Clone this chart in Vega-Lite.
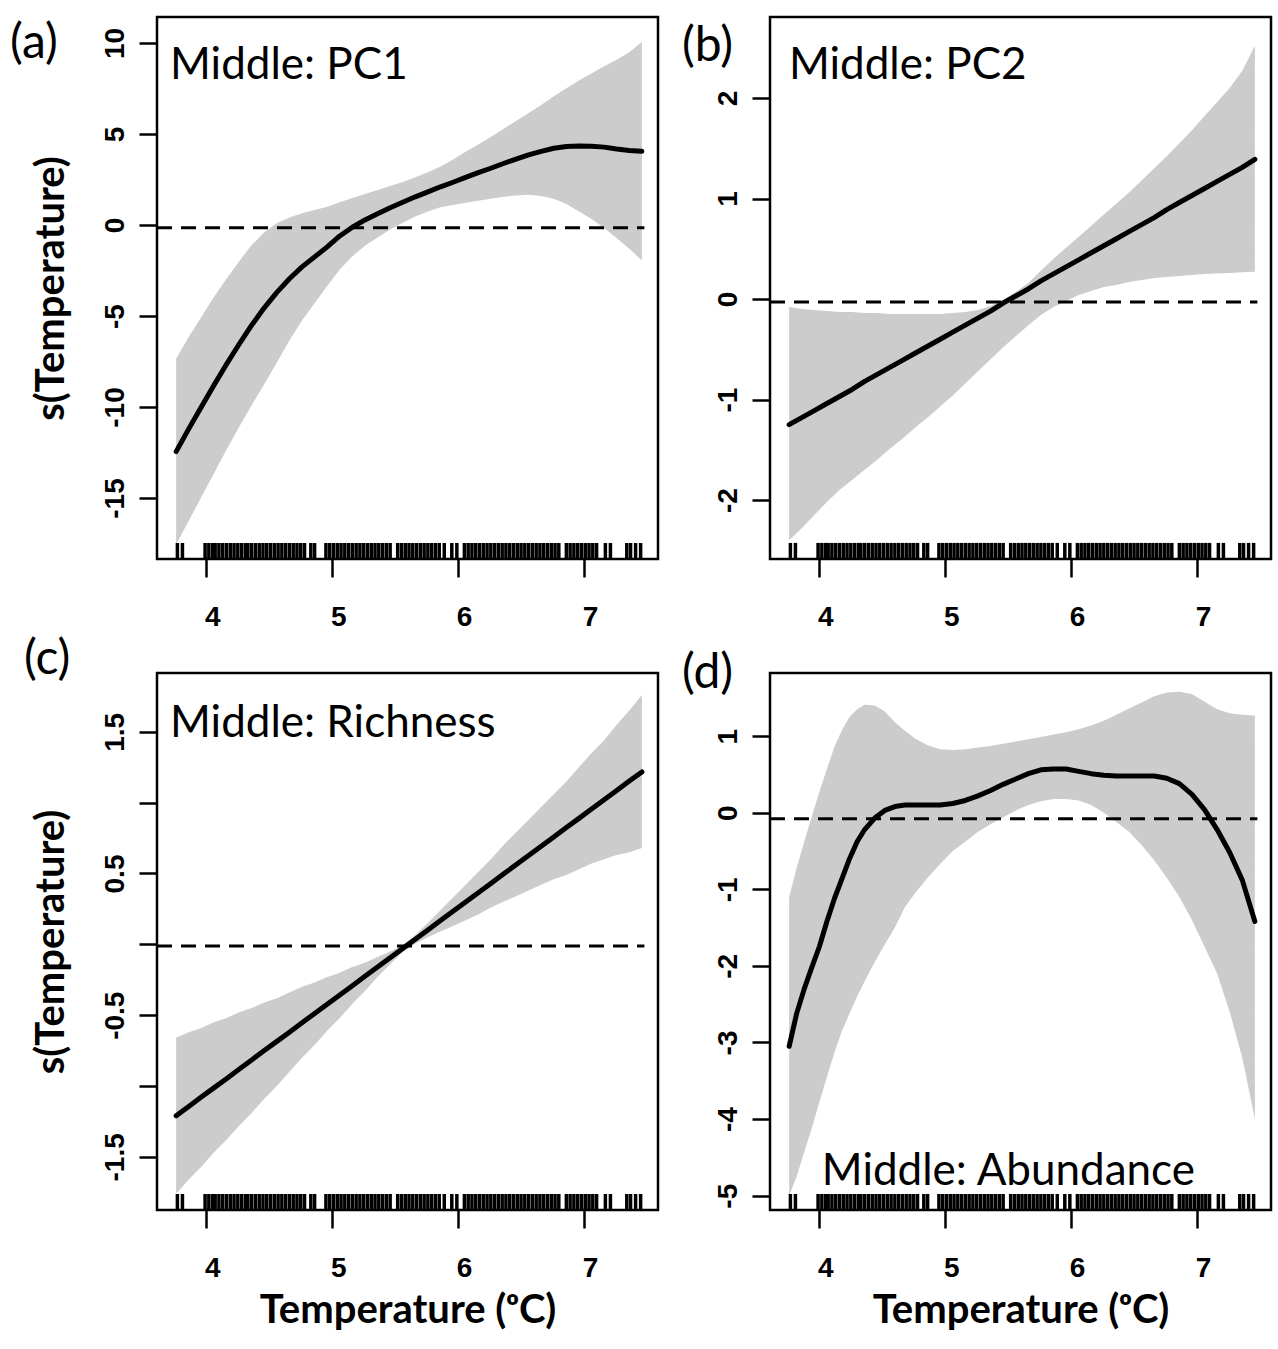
{
"$schema": "https://vega.github.io/schema/vega-lite/v6.json",
"background": "white",
"padding": {"left": 8, "top": 15, "right": 5, "bottom": 5},
"columns": 2,
"spacing": {"row": 114, "column": 112},
"bounds": "flush",
"datasets": {
"rug": [{"t":3.77},{"t":3.81},{"t":3.99},{"t":4.02},{"t":4.05},{"t":4.07},{"t":4.10},{"t":4.13},{"t":4.16},{"t":4.19},{"t":4.22},{"t":4.25},{"t":4.28},{"t":4.31},{"t":4.33},{"t":4.36},{"t":4.39},{"t":4.42},{"t":4.45},{"t":4.48},{"t":4.51},{"t":4.54},{"t":4.57},{"t":4.60},{"t":4.63},{"t":4.66},{"t":4.69},{"t":4.72},{"t":4.75},{"t":4.78},{"t":4.83},{"t":4.86},{"t":4.95},{"t":4.98},{"t":5.01},{"t":5.04},{"t":5.07},{"t":5.10},{"t":5.13},{"t":5.16},{"t":5.19},{"t":5.22},{"t":5.25},{"t":5.28},{"t":5.31},{"t":5.34},{"t":5.37},{"t":5.40},{"t":5.43},{"t":5.46},{"t":5.52},{"t":5.55},{"t":5.58},{"t":5.61},{"t":5.64},{"t":5.67},{"t":5.70},{"t":5.73},{"t":5.76},{"t":5.79},{"t":5.82},{"t":5.85},{"t":5.89},{"t":5.95},{"t":5.99},{"t":6.05},{"t":6.08},{"t":6.11},{"t":6.14},{"t":6.17},{"t":6.20},{"t":6.23},{"t":6.26},{"t":6.29},{"t":6.32},{"t":6.35},{"t":6.38},{"t":6.41},{"t":6.44},{"t":6.47},{"t":6.50},{"t":6.53},{"t":6.56},{"t":6.59},{"t":6.62},{"t":6.65},{"t":6.68},{"t":6.71},{"t":6.74},{"t":6.77},{"t":6.80},{"t":6.86},{"t":6.89},{"t":6.92},{"t":6.95},{"t":6.98},{"t":7.01},{"t":7.04},{"t":7.07},{"t":7.10},{"t":7.17},{"t":7.21},{"t":7.34},{"t":7.37},{"t":7.41},{"t":7.45}],
"a": [
{"t":3.76,"fit":-12.45,"lo":-17.55,"hi":-7.35},
{"t":3.86,"fit":-11.2,"lo":-16.25,"hi":-6.15},
{"t":3.96,"fit":-10.0,"lo":-14.95,"hi":-5.05},
{"t":4.06,"fit":-8.8,"lo":-13.65,"hi":-3.95},
{"t":4.16,"fit":-7.65,"lo":-12.35,"hi":-2.95},
{"t":4.26,"fit":-6.55,"lo":-11.1,"hi":-2.0},
{"t":4.36,"fit":-5.5,"lo":-9.9,"hi":-1.1},
{"t":4.46,"fit":-4.55,"lo":-8.75,"hi":-0.4},
{"t":4.56,"fit":-3.7,"lo":-7.55,"hi":0.1},
{"t":4.66,"fit":-2.95,"lo":-6.35,"hi":0.42},
{"t":4.76,"fit":-2.3,"lo":-5.25,"hi":0.65},
{"t":4.86,"fit":-1.75,"lo":-4.3,"hi":0.82},
{"t":4.96,"fit":-1.2,"lo":-3.35,"hi":1.0},
{"t":5.06,"fit":-0.6,"lo":-2.45,"hi":1.25},
{"t":5.16,"fit":-0.12,"lo":-1.72,"hi":1.48},
{"t":5.26,"fit":0.28,"lo":-1.14,"hi":1.7},
{"t":5.36,"fit":0.62,"lo":-0.68,"hi":1.92},
{"t":5.46,"fit":0.95,"lo":-0.25,"hi":2.15},
{"t":5.56,"fit":1.25,"lo":0.13,"hi":2.37},
{"t":5.66,"fit":1.55,"lo":0.47,"hi":2.63},
{"t":5.76,"fit":1.82,"lo":0.74,"hi":2.9},
{"t":5.86,"fit":2.1,"lo":0.98,"hi":3.22},
{"t":5.96,"fit":2.35,"lo":1.1,"hi":3.6},
{"t":6.06,"fit":2.62,"lo":1.22,"hi":4.02},
{"t":6.16,"fit":2.88,"lo":1.33,"hi":4.43},
{"t":6.26,"fit":3.12,"lo":1.45,"hi":4.84},
{"t":6.36,"fit":3.38,"lo":1.55,"hi":5.28},
{"t":6.46,"fit":3.62,"lo":1.62,"hi":5.72},
{"t":6.56,"fit":3.85,"lo":1.66,"hi":6.15},
{"t":6.66,"fit":4.05,"lo":1.6,"hi":6.6},
{"t":6.76,"fit":4.22,"lo":1.45,"hi":7.07},
{"t":6.86,"fit":4.32,"lo":1.15,"hi":7.52},
{"t":6.96,"fit":4.34,"lo":0.74,"hi":7.94},
{"t":7.06,"fit":4.33,"lo":0.33,"hi":8.33},
{"t":7.16,"fit":4.28,"lo":-0.17,"hi":8.73},
{"t":7.26,"fit":4.18,"lo":-0.72,"hi":9.08},
{"t":7.36,"fit":4.1,"lo":-1.3,"hi":9.5},
{"t":7.46,"fit":4.05,"lo":-1.95,"hi":10.05}],
"b": [
{"t":3.76,"fit":-1.25,"lo":-2.40,"hi":-0.08},
{"t":3.86,"fit":-1.18,"lo":-2.28,"hi":-0.10},
{"t":3.96,"fit":-1.11,"lo":-2.15,"hi":-0.11},
{"t":4.06,"fit":-1.04,"lo":-2.02,"hi":-0.12},
{"t":4.16,"fit":-0.97,"lo":-1.90,"hi":-0.13},
{"t":4.26,"fit":-0.90,"lo":-1.80,"hi":-0.13},
{"t":4.36,"fit":-0.82,"lo":-1.70,"hi":-0.14},
{"t":4.46,"fit":-0.75,"lo":-1.60,"hi":-0.14},
{"t":4.56,"fit":-0.68,"lo":-1.49,"hi":-0.15},
{"t":4.66,"fit":-0.61,"lo":-1.39,"hi":-0.15},
{"t":4.76,"fit":-0.54,"lo":-1.28,"hi":-0.15},
{"t":4.86,"fit":-0.47,"lo":-1.18,"hi":-0.15},
{"t":4.96,"fit":-0.40,"lo":-1.07,"hi":-0.15},
{"t":5.06,"fit":-0.33,"lo":-0.96,"hi":-0.14},
{"t":5.16,"fit":-0.26,"lo":-0.84,"hi":-0.13},
{"t":5.26,"fit":-0.19,"lo":-0.72,"hi":-0.11},
{"t":5.36,"fit":-0.12,"lo":-0.60,"hi":-0.07},
{"t":5.46,"fit":-0.04,"lo":-0.48,"hi":-0.01},
{"t":5.56,"fit":0.03,"lo":-0.37,"hi":0.07},
{"t":5.66,"fit":0.10,"lo":-0.26,"hi":0.16},
{"t":5.76,"fit":0.18,"lo":-0.16,"hi":0.28},
{"t":5.86,"fit":0.25,"lo":-0.08,"hi":0.40},
{"t":5.96,"fit":0.32,"lo":-0.02,"hi":0.51},
{"t":6.06,"fit":0.39,"lo":0.04,"hi":0.62},
{"t":6.16,"fit":0.46,"lo":0.08,"hi":0.73},
{"t":6.26,"fit":0.53,"lo":0.12,"hi":0.84},
{"t":6.36,"fit":0.60,"lo":0.14,"hi":0.95},
{"t":6.46,"fit":0.67,"lo":0.17,"hi":1.06},
{"t":6.56,"fit":0.74,"lo":0.19,"hi":1.18},
{"t":6.66,"fit":0.81,"lo":0.21,"hi":1.30},
{"t":6.76,"fit":0.89,"lo":0.22,"hi":1.42},
{"t":6.86,"fit":0.96,"lo":0.23,"hi":1.55},
{"t":6.96,"fit":1.03,"lo":0.24,"hi":1.68},
{"t":7.06,"fit":1.10,"lo":0.25,"hi":1.82},
{"t":7.16,"fit":1.17,"lo":0.255,"hi":1.96},
{"t":7.26,"fit":1.24,"lo":0.26,"hi":2.10},
{"t":7.36,"fit":1.31,"lo":0.265,"hi":2.27},
{"t":7.46,"fit":1.39,"lo":0.27,"hi":2.52}],
"c": [
{"t":3.76,"fit":-1.21,"lo":-1.76,"hi":-0.66},
{"t":3.86,"fit":-1.144,"lo":-1.66,"hi":-0.62},
{"t":3.96,"fit":-1.078,"lo":-1.57,"hi":-0.59},
{"t":4.06,"fit":-1.013,"lo":-1.47,"hi":-0.55},
{"t":4.16,"fit":-0.948,"lo":-1.38,"hi":-0.52},
{"t":4.26,"fit":-0.882,"lo":-1.28,"hi":-0.48},
{"t":4.36,"fit":-0.816,"lo":-1.19,"hi":-0.45},
{"t":4.46,"fit":-0.75,"lo":-1.09,"hi":-0.41},
{"t":4.56,"fit":-0.685,"lo":-1.0,"hi":-0.38},
{"t":4.66,"fit":-0.62,"lo":-0.9,"hi":-0.34},
{"t":4.76,"fit":-0.554,"lo":-0.8,"hi":-0.3},
{"t":4.86,"fit":-0.488,"lo":-0.71,"hi":-0.27},
{"t":4.96,"fit":-0.423,"lo":-0.61,"hi":-0.23},
{"t":5.06,"fit":-0.357,"lo":-0.52,"hi":-0.2},
{"t":5.16,"fit":-0.292,"lo":-0.42,"hi":-0.16},
{"t":5.26,"fit":-0.226,"lo":-0.33,"hi":-0.13},
{"t":5.36,"fit":-0.16,"lo":-0.23,"hi":-0.09},
{"t":5.46,"fit":-0.095,"lo":-0.14,"hi":-0.05},
{"t":5.56,"fit":-0.029,"lo":-0.054,"hi":-0.004},
{"t":5.66,"fit":0.036,"lo":0.006,"hi":0.066},
{"t":5.76,"fit":0.102,"lo":0.05,"hi":0.15},
{"t":5.86,"fit":0.168,"lo":0.09,"hi":0.24},
{"t":5.96,"fit":0.233,"lo":0.13,"hi":0.33},
{"t":6.06,"fit":0.299,"lo":0.17,"hi":0.42},
{"t":6.16,"fit":0.364,"lo":0.21,"hi":0.51},
{"t":6.26,"fit":0.43,"lo":0.26,"hi":0.6},
{"t":6.36,"fit":0.496,"lo":0.3,"hi":0.7},
{"t":6.46,"fit":0.561,"lo":0.34,"hi":0.79},
{"t":6.56,"fit":0.627,"lo":0.38,"hi":0.88},
{"t":6.66,"fit":0.692,"lo":0.42,"hi":0.97},
{"t":6.76,"fit":0.758,"lo":0.46,"hi":1.06},
{"t":6.86,"fit":0.824,"lo":0.49,"hi":1.15},
{"t":6.96,"fit":0.889,"lo":0.53,"hi":1.25},
{"t":7.06,"fit":0.955,"lo":0.57,"hi":1.35},
{"t":7.16,"fit":1.02,"lo":0.6,"hi":1.44},
{"t":7.26,"fit":1.086,"lo":0.63,"hi":1.55},
{"t":7.36,"fit":1.152,"lo":0.65,"hi":1.65},
{"t":7.46,"fit":1.217,"lo":0.68,"hi":1.76}],
"d": [
{"t":3.76,"fit":-3.05,"lo":-5.0,"hi":-1.1},
{"t":3.82,"fit":-2.62,"lo":-4.75,"hi":-0.72},
{"t":3.88,"fit":-2.3,"lo":-4.43,"hi":-0.38},
{"t":3.94,"fit":-2.02,"lo":-4.12,"hi":-0.05},
{"t":4.0,"fit":-1.75,"lo":-3.78,"hi":0.27},
{"t":4.06,"fit":-1.42,"lo":-3.45,"hi":0.57},
{"t":4.12,"fit":-1.12,"lo":-3.13,"hi":0.86},
{"t":4.18,"fit":-0.86,"lo":-2.85,"hi":1.08},
{"t":4.24,"fit":-0.6,"lo":-2.62,"hi":1.25},
{"t":4.30,"fit":-0.38,"lo":-2.4,"hi":1.35},
{"t":4.36,"fit":-0.22,"lo":-2.2,"hi":1.41},
{"t":4.44,"fit":-0.07,"lo":-1.95,"hi":1.4},
{"t":4.52,"fit":0.03,"lo":-1.72,"hi":1.32},
{"t":4.6,"fit":0.08,"lo":-1.5,"hi":1.18},
{"t":4.68,"fit":0.1,"lo":-1.23,"hi":1.07},
{"t":4.76,"fit":0.1,"lo":-1.05,"hi":0.97},
{"t":4.86,"fit":0.1,"lo":-0.85,"hi":0.88},
{"t":4.96,"fit":0.1,"lo":-0.67,"hi":0.83},
{"t":5.06,"fit":0.12,"lo":-0.5,"hi":0.82},
{"t":5.16,"fit":0.16,"lo":-0.38,"hi":0.83},
{"t":5.26,"fit":0.22,"lo":-0.25,"hi":0.85},
{"t":5.36,"fit":0.29,"lo":-0.15,"hi":0.87},
{"t":5.46,"fit":0.37,"lo":-0.06,"hi":0.9},
{"t":5.56,"fit":0.44,"lo":0.03,"hi":0.93},
{"t":5.66,"fit":0.51,"lo":0.1,"hi":0.96},
{"t":5.76,"fit":0.56,"lo":0.15,"hi":0.99},
{"t":5.86,"fit":0.57,"lo":0.18,"hi":1.02},
{"t":5.96,"fit":0.57,"lo":0.18,"hi":1.05},
{"t":6.06,"fit":0.54,"lo":0.16,"hi":1.09},
{"t":6.16,"fit":0.51,"lo":0.1,"hi":1.14},
{"t":6.26,"fit":0.49,"lo":0.0,"hi":1.2},
{"t":6.36,"fit":0.48,"lo":-0.12,"hi":1.28},
{"t":6.46,"fit":0.48,"lo":-0.25,"hi":1.36},
{"t":6.56,"fit":0.48,"lo":-0.42,"hi":1.44},
{"t":6.66,"fit":0.48,"lo":-0.62,"hi":1.52},
{"t":6.76,"fit":0.45,"lo":-0.85,"hi":1.57},
{"t":6.86,"fit":0.38,"lo":-1.1,"hi":1.58},
{"t":6.96,"fit":0.24,"lo":-1.4,"hi":1.55},
{"t":7.06,"fit":0.04,"lo":-1.75,"hi":1.45},
{"t":7.16,"fit":-0.22,"lo":-2.1,"hi":1.35},
{"t":7.26,"fit":-0.52,"lo":-2.6,"hi":1.3},
{"t":7.36,"fit":-0.88,"lo":-3.2,"hi":1.28},
{"t":7.46,"fit":-1.42,"lo":-4.0,"hi":1.27}]
},
"concat": [
{
"width": 501, "height": 542,
"layer": [
{"data": {"name": "a"}, "mark": {"type": "area", "color": "#cccccc", "opacity": 1},
 "encoding": {
  "x": {"field": "t", "type": "quantitative", "scale": {"domain": [3.608, 7.588], "nice": false, "zero": false}, "axis": {"values": [4,5,6,7], "format": "d", "title": null}},
  "y": {"field": "lo", "type": "quantitative", "scale": {"domain": [-18.35, 11.43], "nice": false, "zero": false}, "axis": {"values": [-15,-10,-5,0,5,10], "format": "d", "title": "s(Temperature)", "labelExpr": "replace(datum.label, '\u2212', '-')"}},
  "y2": {"field": "hi"}}},
{"data": {"values": [{}]}, "mark": {"type": "rule", "color": "black", "strokeWidth": 3, "strokeDash": [15, 9]},
 "encoding": {"x": {"datum": 3.608}, "x2": {"datum": 7.48}, "y": {"datum": -0.15}}},
{"data": {"name": "a"}, "mark": {"type": "line", "color": "black", "strokeWidth": 5, "strokeCap": "round", "strokeJoin": "round"},
 "encoding": {"x": {"field": "t", "type": "quantitative"}, "y": {"field": "fit", "type": "quantitative"}}},
{"data": {"name": "rug"}, "mark": {"type": "rule", "color": "black", "strokeWidth": 3.5},
 "encoding": {"x": {"field": "t", "type": "quantitative"}, "y": {"datum": -18.35}, "y2": {"datum": -17.47}}},
{"data": {"values": [{}]}, "mark": {"type": "text", "font": "Lato", "fontSize": 44, "align": "left", "baseline": "alphabetic", "color": "black"},
 "encoding": {"x": {"datum": 3.712}, "y": {"datum": 8.02}, "text": {"value": "Middle: PC1"}}},
{"data": {"values": [{}]}, "mark": {"type": "text", "font": "Lato", "fontSize": 48, "align": "left", "baseline": "middle", "color": "black"},
 "encoding": {"x": {"datum": 2.441}, "y": {"datum": 9.95}, "text": {"value": "(a)"}}}
]
},
{
"width": 501, "height": 542,
"layer": [
{"data": {"name": "b"}, "mark": {"type": "area", "color": "#cccccc", "opacity": 1},
 "encoding": {
  "x": {"field": "t", "type": "quantitative", "scale": {"domain": [3.608, 7.588], "nice": false, "zero": false}, "axis": {"values": [4,5,6,7], "format": "d", "title": null}},
  "y": {"field": "lo", "type": "quantitative", "scale": {"domain": [-2.587, 2.806], "nice": false, "zero": false}, "axis": {"values": [-2,-1,0,1,2], "format": "d", "title": null, "labelExpr": "replace(datum.label, '\u2212', '-')"}},
  "y2": {"field": "hi"}}},
{"data": {"values": [{}]}, "mark": {"type": "rule", "color": "black", "strokeWidth": 3, "strokeDash": [15, 9]},
 "encoding": {"x": {"datum": 3.608}, "x2": {"datum": 7.48}, "y": {"datum": -0.03}}},
{"data": {"name": "b"}, "mark": {"type": "line", "color": "black", "strokeWidth": 5, "strokeCap": "round", "strokeJoin": "round"},
 "encoding": {"x": {"field": "t", "type": "quantitative"}, "y": {"field": "fit", "type": "quantitative"}}},
{"data": {"name": "rug"}, "mark": {"type": "rule", "color": "black", "strokeWidth": 3.5},
 "encoding": {"x": {"field": "t", "type": "quantitative"}, "y": {"datum": -2.587}, "y2": {"datum": -2.427}}},
{"data": {"values": [{}]}, "mark": {"type": "text", "font": "Lato", "fontSize": 44, "align": "left", "baseline": "alphabetic", "color": "black"},
 "encoding": {"x": {"datum": 3.759}, "y": {"datum": 2.189}, "text": {"value": "Middle: PC2"}}},
{"data": {"values": [{}]}, "mark": {"type": "text", "font": "Lato", "fontSize": 48, "align": "left", "baseline": "middle", "color": "black"},
 "encoding": {"x": {"datum": 2.909}, "y": {"datum": 2.507}, "text": {"value": "(b)"}}}
]
},
{
"width": 501, "height": 537,
"layer": [
{"data": {"name": "c"}, "mark": {"type": "area", "color": "#cccccc", "opacity": 1},
 "encoding": {
  "x": {"field": "t", "type": "quantitative", "scale": {"domain": [3.608, 7.588], "nice": false, "zero": false}, "axis": {"values": [4,5,6,7], "format": "d", "title": "Temperature (ᵒC)"}},
  "y": {"field": "lo", "type": "quantitative", "scale": {"domain": [-1.875, 1.915], "nice": false, "zero": false}, "axis": {"values": [-1.5,-1,-0.5,0,0.5,1,1.5], "format": ".1f", "title": "s(Temperature)", "labelExpr": "datum.value % 1 == 0 ? '' : replace(datum.label, '\u2212', '-')"}},
  "y2": {"field": "hi"}}},
{"data": {"values": [{}]}, "mark": {"type": "rule", "color": "black", "strokeWidth": 3, "strokeDash": [15, 9]},
 "encoding": {"x": {"datum": 3.608}, "x2": {"datum": 7.48}, "y": {"datum": -0.012}}},
{"data": {"name": "c"}, "mark": {"type": "line", "color": "black", "strokeWidth": 5, "strokeCap": "round", "strokeJoin": "round"},
 "encoding": {"x": {"field": "t", "type": "quantitative"}, "y": {"field": "fit", "type": "quantitative"}}},
{"data": {"name": "rug"}, "mark": {"type": "rule", "color": "black", "strokeWidth": 3.5},
 "encoding": {"x": {"field": "t", "type": "quantitative"}, "y": {"datum": -1.875}, "y2": {"datum": -1.762}}},
{"data": {"values": [{}]}, "mark": {"type": "text", "font": "Lato", "fontSize": 44, "align": "left", "baseline": "alphabetic", "color": "black"},
 "encoding": {"x": {"datum": 3.712}, "y": {"datum": 1.463}, "text": {"value": "Middle: Richness"}}},
{"data": {"values": [{}]}, "mark": {"type": "text", "font": "Lato", "fontSize": 48, "align": "left", "baseline": "middle", "color": "black"},
 "encoding": {"x": {"datum": 2.552}, "y": {"datum": 2.006}, "text": {"value": "(c)"}}}
]
},
{
"width": 501, "height": 537,
"layer": [
{"data": {"name": "d"}, "mark": {"type": "area", "color": "#cccccc", "opacity": 1},
 "encoding": {
  "x": {"field": "t", "type": "quantitative", "scale": {"domain": [3.608, 7.588], "nice": false, "zero": false}, "axis": {"values": [4,5,6,7], "format": "d", "title": "Temperature (ᵒC)"}},
  "y": {"field": "lo", "type": "quantitative", "scale": {"domain": [-5.187, 1.824], "nice": false, "zero": false}, "axis": {"values": [-5,-4,-3,-2,-1,0,1], "format": "d", "title": null, "labelExpr": "replace(datum.label, '\u2212', '-')"}},
  "y2": {"field": "hi"}}},
{"data": {"values": [{}]}, "mark": {"type": "rule", "color": "black", "strokeWidth": 3, "strokeDash": [15, 9]},
 "encoding": {"x": {"datum": 3.608}, "x2": {"datum": 7.48}, "y": {"datum": -0.08}}},
{"data": {"name": "d"}, "mark": {"type": "line", "color": "black", "strokeWidth": 5, "strokeCap": "round", "strokeJoin": "round"},
 "encoding": {"x": {"field": "t", "type": "quantitative"}, "y": {"field": "fit", "type": "quantitative"}}},
{"data": {"name": "rug"}, "mark": {"type": "rule", "color": "black", "strokeWidth": 3.5},
 "encoding": {"x": {"field": "t", "type": "quantitative"}, "y": {"datum": -5.187}, "y2": {"datum": -4.978}}},
{"data": {"values": [{}]}, "mark": {"type": "text", "font": "Lato", "fontSize": 44, "align": "left", "baseline": "alphabetic", "color": "black"},
 "encoding": {"x": {"datum": 4.02}, "y": {"datum": -4.86}, "text": {"value": "Middle: Abundance"}}},
{"data": {"values": [{}]}, "mark": {"type": "text", "font": "Lato", "fontSize": 48, "align": "left", "baseline": "middle", "color": "black"},
 "encoding": {"x": {"datum": 2.909}, "y": {"datum": 1.811}, "text": {"value": "(d)"}}}
]
}
],
"config": {
 "view": {"stroke": "black", "strokeWidth": 2.5},
 "axis": {"domain": false, "grid": false, "ticks": true, "tickColor": "black", "tickWidth": 2.5, "tickSize": 18,
  "labelFont": "Liberation Sans", "labelFontWeight": "bold", "labelFontSize": 28, "labelColor": "black",
  "labelFlush": false, "labelOverlap": false,
  "titleFont": "Lato", "titleFontWeight": "bold", "titleFontSize": 40, "titleColor": "black"},
 "axisX": {"labelPadding": 26, "titlePadding": 8, "labelOffset": 6},
 "axisY": {"labelAngle": -90, "labelAlign": "center", "labelBaseline": "alphabetic", "labelPadding": 16, "titlePadding": 30}
}
}
